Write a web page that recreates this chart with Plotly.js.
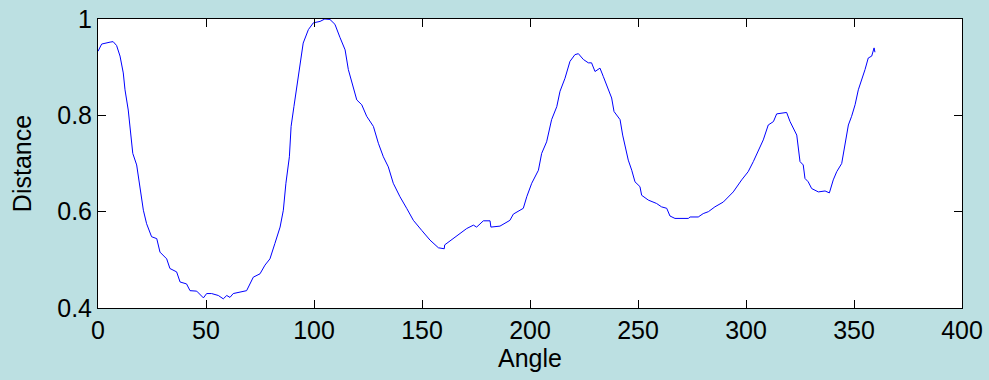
<!DOCTYPE html>
<html>
<head>
<meta charset="utf-8">
<script src="https://cdn.plot.ly/plotly-3.0.1.min.js"></script>
<style>html,body{margin:0;padding:0;background:#bce0e2;}#chart{width:989px;height:380px;}</style>
</head>
<body>
<div id="chart"></div>
<script>
const angle = [0,1.7,5.6,7,8.6,10.2,11.7,12.5,14,15.1,16.1,17.9,19.4,21,22.5,24.8,27.2,28.7,31.8,33.3,36.4,38,41,42.6,45.7,48.8,50.3,52.6,55.7,58,59.6,61.1,62.6,65.7,68.8,71.9,75,77.3,79.6,81.9,84.3,85.8,87,88.6,89.4,90.7,92,93.5,95,97.4,99.7,102.8,105,107.4,109.7,112,114.4,115.9,118.2,119.8,122.1,124.4,127.5,129.8,132.1,134.4,136.7,139.8,142.9,146,149.9,153.7,157.6,160.3,160.5,164.5,167.6,170.7,173.8,175.3,178.4,181.5,181.9,186.1,190.7,192.3,196.9,198.5,200.8,203.9,205.4,207.7,210,212.4,213.9,216.2,218.5,220.8,222.4,224.7,227,228.5,230.1,232.4,233.9,236.3,237.8,238.9,241.7,242.9,244,245.5,247.1,248.6,250.9,251.7,254.8,258.6,260.9,263.3,264.8,267.1,273.3,274.1,277.9,280.2,282.6,285.6,289.5,294.1,298,301,303.4,305.7,308,310.3,312.7,314.2,318.8,320.4,323.5,325,326.5,327.3,328.8,330.4,333.5,336.6,338.6,340.4,342,344.3,345.8,347.4,348.9,350.5,352,353.6,355.1,356.6,358.2,359.3,359.7];
const distance = [0.933,0.948,0.952,0.953,0.945,0.923,0.888,0.853,0.811,0.763,0.721,0.697,0.652,0.603,0.575,0.548,0.544,0.516,0.502,0.482,0.475,0.454,0.450,0.436,0.435,0.421,0.430,0.430,0.426,0.419,0.426,0.422,0.430,0.433,0.436,0.464,0.471,0.489,0.502,0.534,0.568,0.603,0.659,0.714,0.777,0.818,0.860,0.905,0.950,0.978,0.992,0.995,1.0,0.999,0.989,0.962,0.936,0.895,0.860,0.832,0.822,0.798,0.777,0.742,0.714,0.693,0.659,0.631,0.607,0.582,0.561,0.541,0.525,0.523,0.531,0.544,0.555,0.565,0.572,0.568,0.581,0.581,0.568,0.570,0.582,0.595,0.607,0.631,0.659,0.686,0.721,0.745,0.791,0.818,0.850,0.877,0.912,0.926,0.928,0.916,0.909,0.909,0.891,0.898,0.881,0.853,0.836,0.808,0.791,0.759,0.735,0.707,0.686,0.662,0.652,0.634,0.624,0.617,0.610,0.607,0.591,0.586,0.586,0.589,0.589,0.596,0.600,0.610,0.620,0.641,0.666,0.683,0.704,0.725,0.749,0.780,0.787,0.803,0.806,0.787,0.759,0.704,0.697,0.669,0.662,0.648,0.641,0.643,0.639,0.666,0.683,0.700,0.735,0.780,0.798,0.822,0.853,0.874,0.895,0.919,0.923,0.940,0.931];
const xTicks = [0,50,100,150,200,250,300,350,400];
const yTicks = [0.4,0.6,0.8,1];
const yTickText = ['0.4','0.6','0.8','1'];

const FONT = 'Liberation Sans, Arial, sans-serif';
const axisCommon = {
  showgrid:false, zeroline:false, showline:true, linecolor:'#000', linewidth:1,
  mirror:'ticks', ticks:'inside', ticklen:8, tickcolor:'#000', tickwidth:1,
  tickfont:{family:FONT, size:25, color:'#000'}
};
Plotly.newPlot('chart', [{
  x: angle, y: distance, type:'scatter', mode:'lines',
  line:{color:'#0000ff', width:1}, hoverinfo:'skip'
}], {
  width:989, height:380,
  paper_bgcolor:'#bce0e2', plot_bgcolor:'#ffffff',
  margin:{l:98, r:27, t:19, b:72},
  showlegend:false,
  xaxis: Object.assign({}, axisCommon, {
    range:[0,400], tickvals:xTicks, ticktext:xTicks.map(String), ticklabelstandoff:0,
    title:{text:'Angle', font:{family:FONT, size:25, color:'#000'}, standoff:3}
  }),
  yaxis: Object.assign({}, axisCommon, {
    range:[0.4,1], tickvals:yTicks, ticktext:yTickText,
    title:{text:'Distance', font:{family:FONT, size:25, color:'#000'}, standoff:18}
  })
}, {staticPlot:true, displayModeBar:false});
</script>
</body>
</html>
